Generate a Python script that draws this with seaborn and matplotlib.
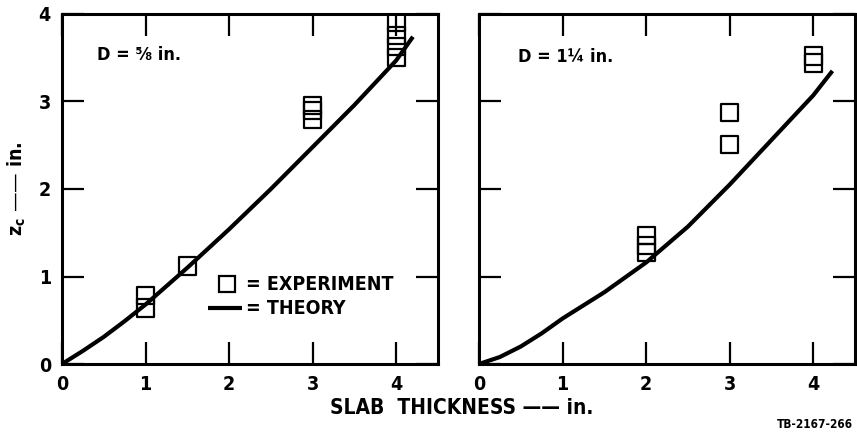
import matplotlib
matplotlib.use("Agg")
import matplotlib.pyplot as plt
import seaborn as sns

sns.set_theme(style="white")
plt.rcParams["font.family"] = ["DejaVu Sans"]
plt.rcParams["font.weight"] = "bold"
plt.rcParams["font.stretch"] = "condensed"
plt.rcParams["mathtext.default"] = "bf"
for key in ["text.color", "axes.labelcolor", "xtick.color", "ytick.color", "axes.edgecolor"]:
    plt.rcParams[key] = "black"

# Theory curves, critical depth z_c vs slab thickness
theory_x_small = [0, 0.25, 0.5, 0.75, 1.0, 1.5, 2.0, 2.5, 3.0, 3.5, 4.0, 4.2]
theory_z_small = [0, 0.15, 0.31, 0.49, 0.68, 1.1, 1.54, 2.0, 2.48, 2.96, 3.47, 3.74]
theory_x_large = [0, 0.25, 0.5, 0.75, 1.0, 1.5, 2.0, 2.5, 3.0, 3.5, 4.0, 4.23]
theory_z_large = [0, 0.08, 0.2, 0.35, 0.52, 0.82, 1.16, 1.57, 2.05, 2.56, 3.07, 3.35]

# Experimental points
exp_x_small = [1, 1, 1.5, 3, 3, 3, 4, 4, 4, 4]
exp_z_small = [0.78, 0.64, 1.12, 2.95, 2.9, 2.79, 3.9, 3.75, 3.63, 3.5]
exp_x_large = [2, 2, 2, 3, 3, 4, 4]
exp_z_large = [1.47, 1.35, 1.27, 2.87, 2.51, 3.52, 3.44]

x_ticks = [0, 1, 2, 3, 4]
y_ticks = [0, 1, 2, 3, 4]
panel_titles = ["D = \u215d in.", "D = 1\u00bc in."]

fig = plt.figure(figsize=(8.57, 4.47), dpi=100)
ax1 = fig.add_axes([62 / 857, 1 - 364 / 447, 376 / 857, 350 / 447])
ax2 = fig.add_axes([479 / 857, 1 - 364 / 447, 376 / 857, 350 / 447])

panels = [
    (ax1, theory_x_small, theory_z_small, exp_x_small, exp_z_small, panel_titles[0], (0.093, 0.883)),
    (ax2, theory_x_large, theory_z_large, exp_x_large, exp_z_large, panel_titles[1], (0.104, 0.877)),
]

for ax, tx, tz, ex, ez, title, tpos in panels:
    sns.lineplot(x=tx, y=tz, ax=ax, color="black", linewidth=3.0,
                 solid_capstyle="butt", solid_joinstyle="round", sort=False)
    sns.scatterplot(x=ex, y=ez, ax=ax, marker="s", s=150,
                    facecolor="none", edgecolor="black", linewidth=1.6, zorder=3)
    ax.set_xlim(0, 4.5)
    ax.set_ylim(0, 4)
    ax.set_xticks(x_ticks)
    ax.set_yticks(y_ticks)
    ax.tick_params(axis="both", direction="in", length=16, width=1.6,
                   top=True, right=True, bottom=True, left=True,
                   labelsize=14, pad=8, colors="black")
    for sp in ax.spines.values():
        sp.set_linewidth(2.2)
        sp.set_color("black")
    ax.text(tpos[0], tpos[1], title, transform=ax.transAxes, fontsize=13,
            fontweight="bold", ha="left", va="center")
    ax.set_xlabel("")
    ax.set_ylabel("")
    for lab in ax.get_xticklabels() + ax.get_yticklabels():
        lab.set_fontweight("bold")

ax2.set_yticklabels([])
ax1.set_ylabel(r"$z_c$ —— in.", fontsize=14, fontweight="bold", labelpad=8)

# Legend drawn inside the left panel
ax1.plot([1.97], [0.91], marker="s", markersize=11.5, markerfacecolor="none",
         markeredgecolor="black", markeredgewidth=1.6, linestyle="")
ax1.text(2.2, 0.91, "= EXPERIMENT", fontsize=14, fontweight="bold",
         ha="left", va="center")
ax1.plot([1.75, 2.15], [0.64, 0.64], color="black",
         linewidth=3.0, solid_capstyle="butt")
ax1.text(2.2, 0.64, "= THEORY", fontsize=14, fontweight="bold",
         ha="left", va="center")

fig.text(462 / 857, 1 - 408 / 447, "SLAB  THICKNESS —— in.", fontsize=15,
         fontweight="bold", ha="center", va="center")
fig.text(853 / 857, 1 - 425 / 447, "TB-2167-266", fontsize=8.5,
         fontweight="bold", ha="right", va="center")

fig.savefig("out.png", dpi=100)
